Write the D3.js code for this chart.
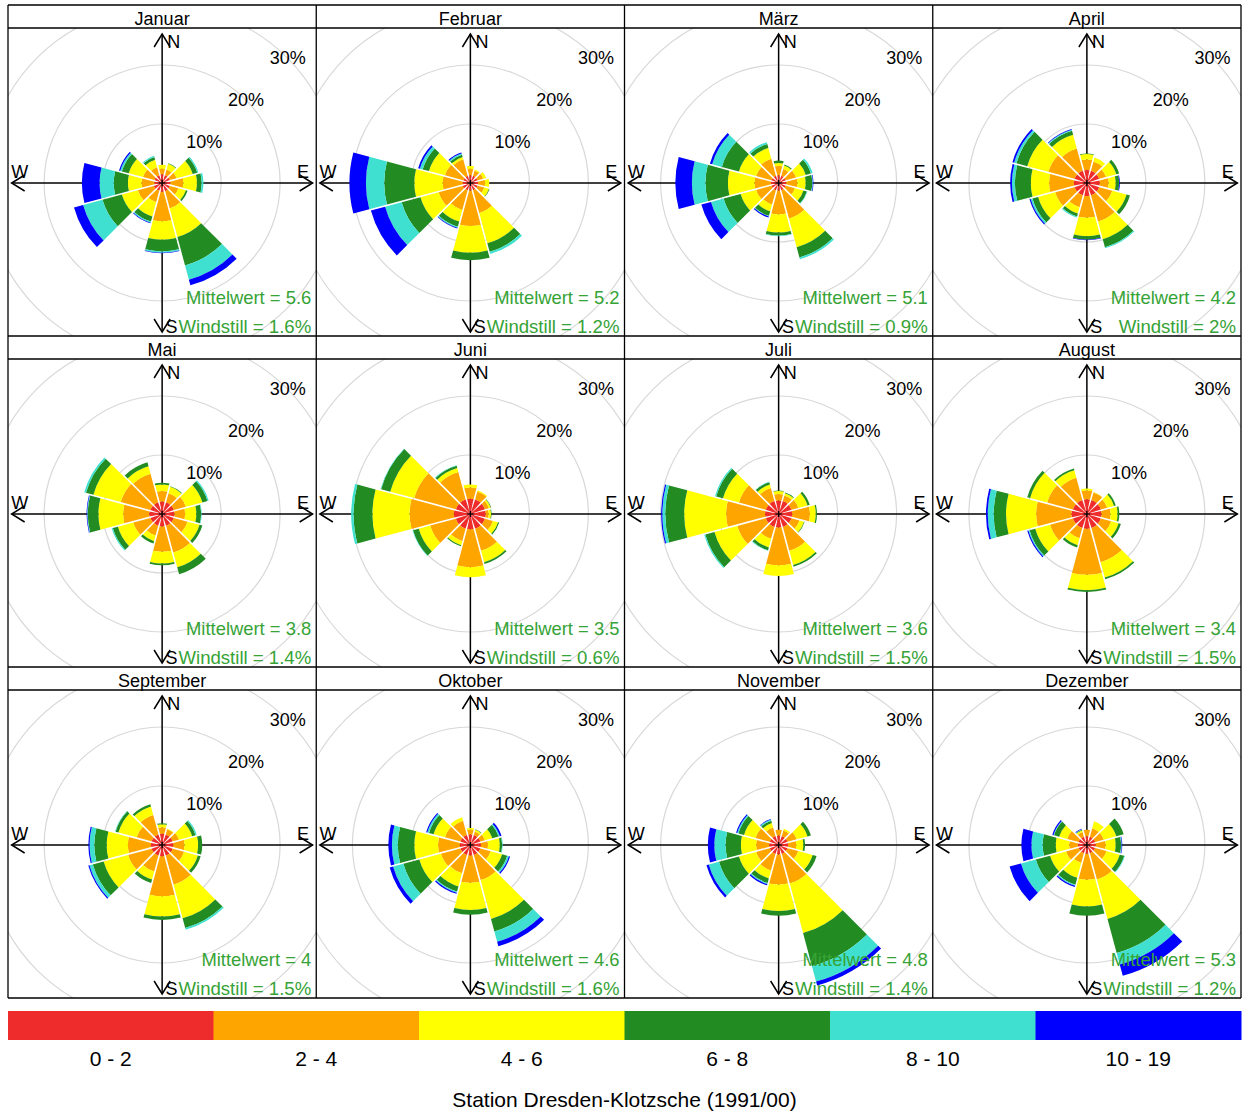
<!DOCTYPE html>
<html><head><meta charset="utf-8">
<script src="https://cdn.jsdelivr.net/npm/d3@7"></script>
<style>body{margin:0;background:#fff;} svg{display:block;font-family:"Liberation Sans",Arial,sans-serif;}</style>
</head><body><svg id="c" width="1249" height="1112"></svg>
<script>
const months = ["Januar","Februar","März","April","Mai","Juni","Juli","August","September","Oktober","November","Dezember"];
const directions = [0,30,60,90,120,150,180,210,240,270,300,330];
const speedClasses = ["0 - 2","2 - 4","4 - 6","6 - 8","8 - 10","10 - 19"];
const classColors = ["#ee2c2c","#ffa500","#ffff00","#228b22","#40e0d0","#0000ff"];
const gridPercents = [10,20,30];
const gridLabels = ["10%","20%","30%"];
const mittelwert = ["5.6","5.2","5.1","4.2","3.8","3.5","3.6","3.4","4","4.6","4.8","5.3"];
const windstill = ["1.6%","1.2%","0.9%","2%","1.4%","0.6%","1.5%","1.5%","1.5%","1.6%","1.4%","1.2%"];
const title = "Station Dresden-Klotzsche (1991/00)";

// frequencies (%) per direction (rows: 0..330 deg) and speed class (columns)
const jan = [[1.5,0.9,0.7,0,0,0],[1.4,1.0,1.0,0.1,0,0],[1.4,1.2,2.8,0.8,0.2,0],[1.4,2.2,2.3,0.8,0.3,0],[1.4,1.5,1.3,0.3,0,0],[1.5,3.0,5.0,5.0,2.5,1.0],[1.5,5.0,3.1,2.0,0.2,0.1],[1.4,2.0,2.5,0.9,0.2,0.1],[1.5,2.8,2.8,3.4,3.4,1.6],[1.3,2.2,2.3,2.4,2.4,3.0],[1.4,2.0,2.5,1.2,0.3,0.2],[1.4,1.4,1.3,0.5,0.2,0]];
const feb = [[1.3,1.1,0.5,0,0,0],[1.3,0.9,0.2,0,0,0],[1.3,1.0,0.5,0,0,0],[1.3,1.2,0.7,0,0,0],[1.3,1.2,0.8,0.1,0,0],[1.3,4.0,5.3,1.5,0.4,0],[1.3,6.0,4.5,1.3,0,0],[1.3,3.5,2.0,0.9,0.2,0.1],[1.4,4.2,3.2,3.3,2.9,2.5],[1.3,3.4,4.8,5.1,3.1,2.8],[1.3,3.2,2.8,1.1,0.5,0.3],[1.3,2.9,0.4,0.4,0.2,0.2]];
const mar = [[1.3,1.6,0.5,0.4,0,0],[1.3,1.2,0.6,0.2,0,0],[1.3,1.8,1.7,0.9,0.3,0],[1.3,1.9,1.4,1.1,0.1,0.1],[1.3,1.6,1.5,0.6,0.1,0],[1.3,5.0,5.0,1.8,0.3,0],[1.3,4.0,3.1,0.5,0.1,0],[1.3,2.5,1.2,0.8,0.1,0.2],[1.3,2.7,2.7,3.0,2.2,1.7],[1.3,2.8,4.5,3.8,2.3,2.8],[1.3,2.7,3.0,3.0,1.7,0.4],[1.3,3.0,1.9,0.7,0.3,0]];
const apr = [[2.2,1.8,0.9,0.1,0,0],[2.2,1.6,0.7,0,0,0],[2.2,1.2,1.8,0.5,0,0],[2.2,1.5,1.2,0.6,0,0.1],[2.2,2.3,2.5,0.6,0,0],[2.2,4.6,3.1,1.4,0.2,0],[2.2,3.7,3.1,0.6,0,0.1],[2.2,2.1,1.1,0.5,0.2,0],[2.2,3.4,3.0,1.0,0.3,0.2],[2.2,4.2,3.1,2.7,0.5,0.3],[2.2,4.6,3.7,1.9,0.4,0.3],[2.2,3.9,2.4,0.7,0.2,0.1]];
const mai = [[2.1,1.8,1.1,0.3,0,0],[2.1,1.6,1.1,0.1,0,0],[2.1,2.1,2.9,0.9,0.2,0],[2.1,1.8,1.9,0.8,0.1,0],[2.1,2.4,2.1,0.5,0,0],[2.1,4.7,2.6,1.2,0,0],[2.1,4.3,2.0,0.3,0,0],[2.1,1.7,1.0,0.4,0,0],[2.1,3.0,2.7,0.9,0.2,0],[2.2,4.4,4.2,1.8,0.1,0.1],[2.1,5.2,4.8,1.3,0.3,0],[2.1,5.0,1.3,0.7,0,0]];
const jun = [[2.6,1.9,0.5,0,0,0],[2.6,1.4,0.2,0,0,0],[2.6,0.7,0.3,0.1,0,0],[2.6,0.5,0.4,0.1,0,0],[2.6,1.4,0.9,0.2,0,0],[2.6,3.9,2.0,0.3,0,0],[2.6,6.4,1.7,0,0,0],[2.6,2.2,0.7,0.2,0,0],[2.6,4.5,2.0,1.0,0.1,0],[2.8,7.5,6.3,3.2,0.4,0],[2.6,7.3,4.2,1.6,0.1,0],[2.6,4.8,0.7,0.4,0.1,0]];
const jul = [[2.3,1.1,0.5,0.1,0,0],[2.3,1.0,0.4,0.1,0,0],[2.3,1.2,1.6,0.4,0,0],[2.3,3.0,1.0,0.2,0,0],[2.3,1.4,0.8,0.1,0,0],[2.3,4.2,2.5,0.3,0,0],[2.3,6.4,1.8,0,0,0],[2.3,2.1,1.5,0.5,0.1,0],[2.3,5.0,4.0,1.6,0.2,0],[2.3,6.6,7.1,3.2,0.5,0.2],[2.3,4.7,2.8,1.2,0.2,0],[2.3,2.3,0.6,0.4,0.1,0]];
const aug = [[2.5,1.5,0.3,0,0,0],[2.5,1.3,0.1,0,0,0],[2.5,1.1,1.2,0.3,0,0],[2.5,1.5,1.2,0.3,0,0],[2.5,1.8,1.3,0.4,0,0],[2.5,6.0,2.7,0.3,0,0],[2.5,7.8,2.6,0.3,0,0],[2.5,1.8,1.2,0.4,0,0],[2.5,4.0,2.6,1.0,0.2,0.2],[2.6,6.0,5.1,2.1,1.0,0.3],[2.5,4.5,3.0,0.5,0,0],[2.5,3.9,1.3,0.3,0,0]];
const sep = [[1.9,1.1,0.5,0.2,0,0],[1.9,0.9,0.1,0,0,0],[1.9,1.1,2.3,0.6,0.2,0],[1.9,1.9,2.3,0.7,0,0],[1.9,2.0,2.4,0.5,0,0],[1.9,5.1,5.9,1.7,0.3,0],[1.9,6.8,3.4,0.6,0,0],[1.9,2.8,1.4,0.6,0,0],[1.9,4.1,4.3,1.9,0.6,0.2],[1.9,3.9,3.6,2.1,0.8,0.2],[1.9,2.6,3.2,0.5,0.1,0],[1.9,3.4,1.5,0.4,0,0]];
const okt = [[1.8,0.8,0.3,0,0,0],[1.8,0.6,0.3,0.1,0,0],[1.8,0.8,1.3,1.1,0.2,0.3],[1.8,1.2,2.0,0.4,0.1,0],[1.8,1.8,2.0,0.9,0.3,0.2],[1.8,4.4,6.8,2.2,1.8,0.8],[1.8,4.6,4.6,0.8,0,0],[1.8,3.2,2.3,0.9,0.2,0.2],[1.8,3.4,3.8,2.8,1.8,0.6],[1.8,3.7,4.0,2.8,1.0,0.6],[1.8,2.7,2.0,0.8,0.3,0.2],[1.8,2.5,0.6,0,0,0]];
const nov = [[1.6,1.0,0,0,0,0],[1.6,1.0,0.3,0,0,0],[1.6,1.6,1.9,0.6,0,0],[1.6,1.4,1.2,0.3,0,0],[1.6,1.9,2.5,0.7,0,0],[1.6,5.2,8.7,5.8,2.7,0.7],[1.6,5.1,4.5,0.8,0,0],[1.6,2.9,1.4,0.8,0.2,0.2],[1.6,2.4,3.0,3.5,1.8,0.4],[1.6,2.2,2.6,2.6,1.9,1.1],[1.6,2.5,2.0,1.0,0.2,0.2],[1.6,1.5,0.8,0.4,0.2,0.1]];
const dez = [[1.5,1.1,0,0,0,0],[1.5,1.5,1.2,0,0,0],[1.5,1.5,2.2,1.3,0,0],[1.5,1.7,1.7,0.9,0.1,0.1],[1.5,2.0,2.3,0.8,0.1,0],[1.5,4.6,6.9,6.0,2.0,2.0],[1.5,4.4,4.5,1.6,0,0],[1.5,1.7,2.6,1.2,0.2,0.2],[1.5,2.2,2.8,2.5,2.6,2.0],[1.5,1.5,2.3,2.2,1.9,1.7],[1.5,2.0,1.4,0.9,0.1,0.2],[1.5,0.8,0.3,0.1,0.1,0.1]];
const monthData = [jan,feb,mar,apr,mai,jun,jul,aug,sep,okt,nov,dez];

const svg = d3.select("#c");
const left = 8, right = 1241, top0 = 5, bottom = 998;
const cols = 4, rows = 3;
const pw = (right-left)/cols, ph = (bottom-top0)/rows;
const headH = 23;
const r = d3.scaleLinear().domain([0,10]).range([0,59]);
const green = "#36a336";
const FS = 18;

const defs = svg.append("defs");

monthData.forEach((data, m) => {
  const col = m % cols, row = Math.floor(m / cols);
  const x0 = left + col*pw, y0 = top0 + row*ph;
  const plotTop = y0 + headH, plotH = ph - headH;
  const cx = x0 + pw/2, cy = plotTop + plotH/2 + 1;
  const clipId = "clip"+m;
  defs.append("clipPath").attr("id", clipId).append("rect")
    .attr("x", x0).attr("y", plotTop).attr("width", pw).attr("height", plotH);
  const g = svg.append("g");
  // header
  g.append("text").attr("x", cx).attr("y", y0 + 19.5).attr("text-anchor","middle")
    .attr("font-size", 18).attr("fill","#000").text(months[m]);
  const pg = g.append("g").attr("clip-path", `url(#${clipId})`);
  const cg = pg.append("g").attr("transform", `translate(${cx},${cy})`);
  // grid circles
  cg.selectAll("circle.grid").data(gridPercents).join("circle")
    .attr("r", d => r(d)).attr("fill","none").attr("stroke","#d8d8d8").attr("stroke-width",1.2);
  // axes with open arrows
  const L = 150.5, ah = 13, aw = 8;
  const ax = cg.append("g").attr("stroke","#000").attr("stroke-width",1.5).attr("fill","none");
  ax.append("line").attr("x1",-L).attr("x2",L).attr("y1",0).attr("y2",0);
  ax.append("line").attr("y1",-L+1.5).attr("y2",L-1.5).attr("x1",0).attr("x2",0);
  const arrows = [[-L,0,1,0],[L,0,-1,0],[0,-L+1.5,0,1],[0,L-1.5,0,-1]];
  arrows.forEach(([tx,ty,dx,dy]) => {
    const px = -dy, py = dx;
    ax.append("path").attr("d",
      `M${tx+dx*ah+px*aw},${ty+dy*ah+py*aw}L${tx},${ty}L${tx+dx*ah-px*aw},${ty+dy*ah-py*aw}`);
  });
  // sectors
  const arc = d3.arc().padRadius(100).padAngle(0.016);
  directions.forEach((dir, di) => {
    const vals = data[di];
    const cum = Array.from(d3.cumsum(vals));
    vals.forEach((v, k) => {
      if (v <= 0) return;
      const inner = k === 0 ? 0 : cum[k-1];
      cg.append("path").attr("fill", classColors[k])
        .attr("d", arc({innerRadius: r(inner), outerRadius: r(cum[k]),
          startAngle: (dir-15)*Math.PI/180, endAngle: (dir+15)*Math.PI/180}));
    });
  });
  // centre cross
  cg.append("path").attr("d","M-3,0H3M0,-3V3").attr("stroke","#000").attr("stroke-width",1.2);
  // ring labels
  gridPercents.forEach((p, i) => {
    const rr = r(p);
    cg.append("text").attr("x", rr*Math.SQRT1_2 + 0.5).attr("y", -rr*Math.SQRT1_2 + 6.4)
      .attr("text-anchor","middle").attr("font-size", FS).attr("fill","#000").text(gridLabels[i]);
  });
  // direction letters
  const dl = [["N",11.5,-135.4],["W",-142.3,-4.7],["E",141,-4.7],["S",9.5,149.6]];
  dl.forEach(([t,x,y]) => cg.append("text").attr("x",x).attr("y",y).attr("text-anchor","middle")
    .attr("font-size", FS).attr("fill","#000").text(t));
  // stats
  g.append("text").attr("x", x0+pw-5).attr("y", cy+121.3).attr("text-anchor","end")
    .attr("font-size", 18.4).attr("fill", green).text("Mittelwert = " + mittelwert[m]);
  g.append("text").attr("x", x0+pw-5).attr("y", cy+149.6).attr("text-anchor","end")
    .attr("font-size", 18.6).attr("fill", green).text("Windstill = " + windstill[m]);
});

// panel borders
const bg = svg.append("g").attr("stroke","#000").attr("stroke-width",1.3).attr("fill","none");
for (let c = 0; c <= cols; c++) bg.append("line").attr("x1", left+c*pw).attr("x2", left+c*pw).attr("y1", top0).attr("y2", bottom);
for (let rr = 0; rr < rows; rr++) {
  bg.append("line").attr("x1", left).attr("x2", right).attr("y1", top0+rr*ph).attr("y2", top0+rr*ph);
  bg.append("line").attr("x1", left).attr("x2", right).attr("y1", top0+rr*ph+headH).attr("y2", top0+rr*ph+headH);
}
bg.append("line").attr("x1", left).attr("x2", right).attr("y1", bottom).attr("y2", bottom);

// legend
const lx = d3.scaleBand().domain(speedClasses).range([left, right]).paddingInner(0);
svg.append("g").selectAll("rect").data(speedClasses).join("rect")
  .attr("x", d => lx(d)).attr("width", lx.bandwidth()+0.5).attr("y", 1011).attr("height", 29)
  .attr("fill", (d,i) => classColors[i]);
svg.append("g").selectAll("text").data(speedClasses).join("text")
  .attr("x", d => lx(d) + lx.bandwidth()/2).attr("y", 1066).attr("text-anchor","middle")
  .attr("font-size", 21).attr("fill","#000").text(d => d);
svg.append("text").attr("x", (left+right)/2).attr("y", 1107).attr("text-anchor","middle")
  .attr("font-size", 21).attr("fill","#000").text(title);
</script></body></html>
